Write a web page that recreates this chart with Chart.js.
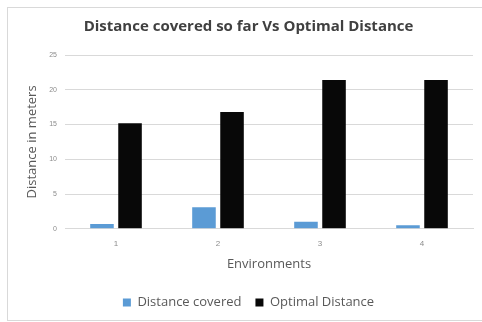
<!DOCTYPE html>
<html lang="en">
<head>
  <meta charset="UTF-8" />
  <title>Distance covered so far Vs Optimal Distance</title>
  <script src="https://cdn.jsdelivr.net/npm/chart.js"></script>
  <style>
    body {
      margin: 0;
      padding: 0;
      background: #fff;
      font-family: "Open Sans", sans-serif;
    }
    #frame {
      position: absolute;
      left: 7px;
      top: 7px;
      width: 480px;
      height: 312px;
      border: 1px solid #d9d9d9;
    }
    #chart-box {
      position: absolute;
      left: 0;
      top: 0;
      width: 482px;
      height: 322px;
    }
  </style>
</head>
<body>
  <div id="frame"></div>
  <div id="chart-box">
    <canvas id="distChart"></canvas>
  </div>

  <script>
    const environments = ["1", "2", "3", "4"];
    const distanceCovered = [0.7, 3.1, 1.0, 0.5];
    const optimalDistance = [15.2, 16.8, 21.4, 21.4];
    const yTicks = [0, 5, 10, 15, 20, 25];

    new Chart(document.getElementById("distChart").getContext("2d"), {
      type: "bar",
      data: {
        labels: environments,
        datasets: [
          { label: "Distance covered", data: distanceCovered, backgroundColor: "#5b9bd5" },
          { label: "Optimal Distance", data: optimalDistance, backgroundColor: "#080808" },
        ],
      },
      options: {
        responsive: true,
        maintainAspectRatio: false,
        animation: false,
        categoryPercentage: 0.55,
        barPercentage: 0.84,
        layout: { padding: { left: 24, right: 9, top: 12, bottom: 3 } },
        plugins: {
          title: {
            display: true,
            text: "Distance covered so far Vs Optimal Distance",
            color: "#404040",
            font: { family: "Open Sans", size: 15, weight: "bold" },
            padding: { top: 6, bottom: 19 },
          },
          legend: {
            position: "bottom",
            labels: {
              boxWidth: 8,
              boxHeight: 8,
              color: "#595959",
              padding: 14,
              font: { family: "Open Sans", size: 13 },
            },
          },
          tooltip: { enabled: false },
        },
        scales: {
          y: {
            min: 0,
            max: 25,
            afterBuildTicks: axis => { axis.ticks = yTicks.map(v => ({ value: v })); },
            afterFit: axis => { axis.width = 41; },
            grid: { color: "#d9d9d9", drawTicks: false },
            border: { display: false },
            ticks: { color: "#8c8c8c", padding: 8, font: { size: 7 } },
            title: {
              display: true,
              text: "Distance in meters",
              color: "#595959",
              padding: 0,
              font: { family: "Open Sans", size: 13 },
            },
          },
          x: {
            grid: { display: false },
            border: { color: "#d9d9d9" },
            ticks: { color: "#8c8c8c", padding: 2, font: { size: 8 } },
            title: {
              display: true,
              text: "Environments",
              color: "#595959",
              padding: { top: 6, bottom: 10 },
              font: { family: "Open Sans", size: 13 },
            },
          },
        },
      },
    });
  </script>
</body>
</html>
